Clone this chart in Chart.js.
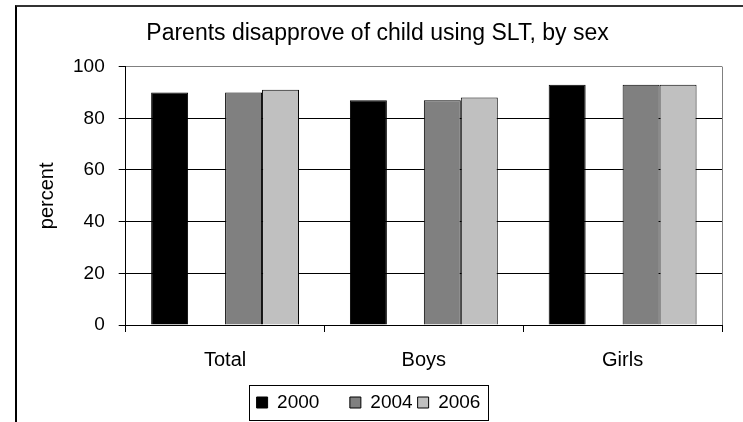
<!DOCTYPE html>
<html>
<head>
<meta charset="utf-8">
<script src="https://cdn.jsdelivr.net/npm/chart.js@4.4.1/dist/chart.umd.min.js"></script>
<style>
  html, body { margin: 0; padding: 0; background: #fff; }
  #wrap { position: relative; width: 743px; height: 422px; overflow: hidden; }
  #frame { position: absolute; left: 15px; top: 5px; width: 800px; height: 500px;
           border-left: 2px solid #000; border-top: 2px solid #333; }
  canvas { position: absolute; left: 0; top: 0; }
</style>
</head>
<body>
<div id="wrap">
  <div id="frame"></div>
  <canvas id="myChart" width="743" height="422"></canvas>
</div>
<script>
// data
var categories = ["Total", "Boys", "Girls"];
var years = ["2000", "", "2004", "2006"];   // blank slot kept like the original
var values2000 = [90, 87, 93];
var values2002 = [null, null, null];
var values2004 = [90, 87, 93];
var values2006 = [91, 88, 93];
var yTicks = [0, 20, 40, 60, 80, 100];

var barColors = ["#000000", "rgba(0,0,0,0)", "#808080", "#C0C0C0"];

Chart.defaults.font.family = "'Liberation Sans', Arial, sans-serif";
Chart.defaults.color = "#000";

// gray right edge of plot area
var plotEdge = {
  id: "plotEdge",
  beforeDatasetsDraw: function (chart) {
    var a = chart.chartArea;
    var ctx = chart.ctx;
    ctx.save();
    ctx.strokeStyle = "#808080";
    ctx.lineWidth = 1;
    ctx.beginPath();
    ctx.moveTo(Math.round(a.right) + 0.5, a.top);
    ctx.lineTo(Math.round(a.right) + 0.5, a.bottom);
    ctx.stroke();
    ctx.restore();
  }
};

// legend sits a bit left of the plot centre, with a box round it
var legendBox = {
  id: "legendBox",
  afterLayout: function (chart) {
    chart.legend.left -= 9;
    chart.legend.right -= 9;
  },
  afterDraw: function (chart) {
    var boxes = chart.legend.legendHitBoxes;
    if (!boxes || !boxes.length) return;
    var first = boxes[0];
    var last = boxes[boxes.length - 1];
    var ctx = chart.ctx;
    ctx.save();
    ctx.strokeStyle = "#000";
    ctx.lineWidth = 1;
    var l = Math.round(first.left - 8) + 0.5;
    var t = Math.round(first.top - 8) + 0.5;
    var r = Math.round(last.left + last.width + 8) + 0.5;
    var b = Math.round(first.top + first.height + 8) + 0.5;
    ctx.strokeRect(l, t, r - l, b - t);
    ctx.restore();
  }
};

var ctx = document.getElementById("myChart").getContext("2d");
var myChart = new Chart(ctx, {
  type: "bar",
  data: {
    labels: categories,
    datasets: [
      { label: years[0], data: values2000, backgroundColor: barColors[0], borderColor: "#000", borderWidth: 1 },
      { label: years[1], data: values2002, backgroundColor: barColors[1], borderColor: "#000", borderWidth: 1 },
      { label: years[2], data: values2004, backgroundColor: barColors[2], borderColor: "#000", borderWidth: 1 },
      { label: years[3], data: values2006, backgroundColor: barColors[3], borderColor: "#000", borderWidth: 1 },
    ],
  },
  options: {
    responsive: false,
    animation: false,
    categoryPercentage: 0.744,
    barPercentage: 1,
    layout: { padding: { left: 33, right: 21, top: 0, bottom: 0 } },
    plugins: {
      title: {
        display: true,
        text: "Parents disapprove of child using SLT, by sex",
        color: "#000",
        font: { size: 23, weight: "normal" },
        padding: { top: 20, bottom: 19 },
      },
      legend: {
        position: "bottom",
        onClick: null,
        labels: {
          boxWidth: 11,
          boxHeight: 11,
          padding: 5,
          font: { size: 19 },
          generateLabels: function (chart) {
            var items = Chart.defaults.plugins.legend.labels.generateLabels(chart);
            items.forEach(function (item) {
              if (years[item.datasetIndex] === "") {
                item.fillStyle = "rgba(0,0,0,0)";
                item.strokeStyle = "rgba(0,0,0,0)";
                item.lineWidth = 0;
              } else {
                item.lineWidth = 1;
                item.strokeStyle = "#000";
              }
            });
            return items;
          },
        },
      },
      tooltip: { enabled: false },
    },
    scales: {
      x: {
        grid: { display: true, drawOnChartArea: false, drawTicks: true, tickLength: 7, offset: true, color: "#000" },
        border: { display: true, color: "#000", width: 1 },
        ticks: { font: { size: 20 }, padding: 16, color: "#000" },
      },
      y: {
        min: 0,
        max: 100,
        afterBuildTicks: function (scale) {
          scale.ticks = yTicks.map(function (v) { return { value: v }; });
        },
        grid: {
          color: function (c) { return c.tick && c.tick.value === 100 ? "#808080" : "#000"; },
          tickLength: 7,
          tickColor: "#000",
        },
        border: { display: true, color: "#000", width: 1 },
        ticks: { font: { size: 19 }, padding: 14, color: "#000" },
        title: { display: true, text: "percent", font: { size: 20 }, color: "#000", padding: { top: 2, bottom: 0 } },
      },
    },
  },
  plugins: [plotEdge, legendBox],
});
</script>
</body>
</html>
